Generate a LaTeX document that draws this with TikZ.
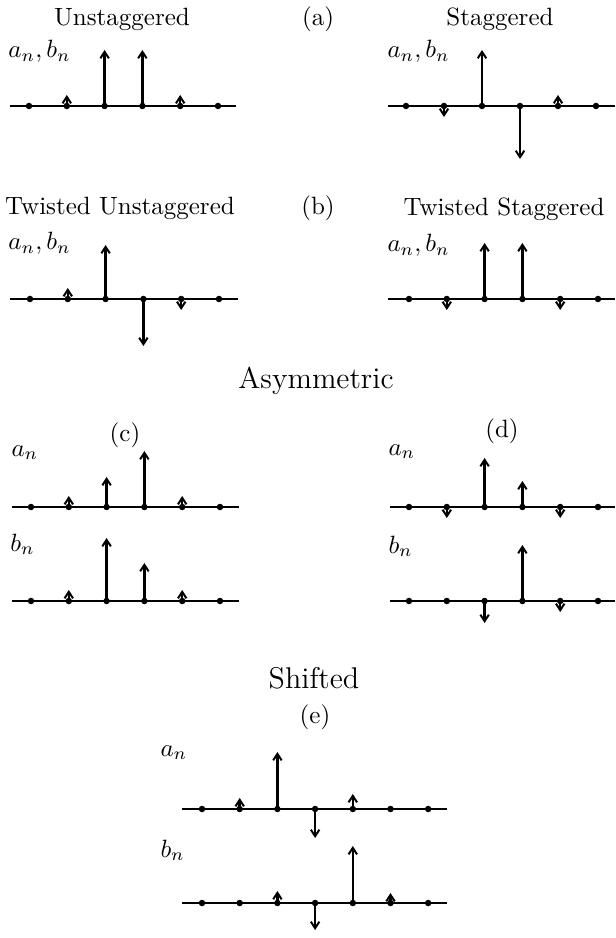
\documentclass[tikz,border=0pt]{standalone}
\usetikzlibrary{arrows.meta}
\begin{document}
\begin{tikzpicture}[x=0.4pt,y=-0.4pt,
  dot/.style={circle,fill=black,inner sep=0pt,minimum size=2.6pt},
  axisline/.style={line width=0.5pt},
  stem/.style={line width=1pt,-{Straight Barb[length=2.6pt,width=3.4pt,line width=0.8pt]}},
  lbl/.style={inner sep=0pt,anchor=base},
  lblw/.style={inner sep=0pt,anchor=base west},
  big/.style={inner sep=0pt,anchor=base,font=\fontsize{12}{14}\selectfont}]
\useasboundingbox (0,0) rectangle (615,938);

% ---------- (a) Unstaggered ----------
\node[lbl] (tUA) at (122,26) {Unstaggered};
\node[lbl] (tA) at (318,26) {(a)};
\node[lbl] (tSA) at (500,26) {Staggered};
\node[lblw] (lUA) at (8,58) {$a_n, b_n$};
\node[lblw] (lSA) at (387,58) {$a_n, b_n$};
\coordinate (uaL) at (10,106); \coordinate (uaR) at (236,106);
\draw[axisline] (uaL) -- (uaR);
\foreach \i in {0,...,5} \node[dot] (ua\i) at ({29+37.8*\i},106) {};
\draw[stem] (ua1.center) -- ++(0,-11);
\draw[stem] (ua2.center) -- ++(0,-56);
\draw[stem] (ua3.center) -- ++(0,-56);
\draw[stem] (ua4.center) -- ++(0,-11);

\coordinate (saL) at (388,106); \coordinate (saR) at (615,106);
\draw[axisline] (saL) -- (saR);
\foreach \i in {0,...,5} \node[dot] (sa\i) at ({406+38*\i},106) {};
\draw[stem] (sa1.center) -- ++(0,11);
\draw[stem] (sa2.center) -- ++(0,-56);
\draw[stem] (sa3.center) -- ++(0,53);
\draw[stem] (sa4.center) -- ++(0,-11);

% ---------- (b) Twisted ----------
\node[lbl] (tTU) at (120,215) {Twisted Unstaggered};
\node[lbl] (tB) at (318,215) {(b)};
\node[lbl] (tTS) at (504,216) {Twisted Staggered};
\node[lblw] (lTU) at (8,250) {$a_n, b_n$};
\node[lblw] (lTS) at (387,252) {$a_n, b_n$};
\coordinate (tuL) at (10,299); \coordinate (tuR) at (238,299);
\draw[axisline] (tuL) -- (tuR);
\foreach \i in {0,...,5} \node[dot] (tu\i) at ({30+37.8*\i},299) {};
\draw[stem] (tu1.center) -- ++(0,-11);
\draw[stem] (tu2.center) -- ++(0,-54);
\draw[stem] (tu3.center) -- ++(0,47);
\draw[stem] (tu4.center) -- ++(0,11);

\coordinate (tsL) at (388,299); \coordinate (tsR) at (615,299);
\draw[axisline] (tsL) -- (tsR);
\foreach \i in {0,...,5} \node[dot] (ts\i) at ({409+37.8*\i},299) {};
\draw[stem] (ts1.center) -- ++(0,11);
\draw[stem] (ts2.center) -- ++(0,-56);
\draw[stem] (ts3.center) -- ++(0,-56);
\draw[stem] (ts4.center) -- ++(0,11);

% ---------- Asymmetric (c), (d) ----------
\node[big] (tAs) at (316,389) {Asymmetric};
\node[lbl] (tC) at (125,441) {(c)};
\node[lbl] (tD) at (502,437) {(d)};
\node[lblw] (lCa) at (11,456) {$a_n$};
\node[lblw] (lCb) at (10,551) {$b_n$};
\node[lblw] (lDa) at (388,455) {$a_n$};
\node[lblw] (lDb) at (388,553) {$b_n$};

\coordinate (caL) at (12,507); \coordinate (caR) at (239,507);
\draw[axisline] (caL) -- (caR);
\foreach \i in {0,...,5} \node[dot] (ca\i) at ({31+37.8*\i},507) {};
\draw[stem] (ca1.center) -- ++(0,-11);
\draw[stem] (ca2.center) -- ++(0,-30);
\draw[stem] (ca3.center) -- ++(0,-56);
\draw[stem] (ca4.center) -- ++(0,-11);

\coordinate (cbL) at (12,601); \coordinate (cbR) at (239,601);
\draw[axisline] (cbL) -- (cbR);
\foreach \i in {0,...,5} \node[dot] (cb\i) at ({31+37.8*\i},601) {};
\draw[stem] (cb1.center) -- ++(0,-11);
\draw[stem] (cb2.center) -- ++(0,-63);
\draw[stem] (cb3.center) -- ++(0,-38);
\draw[stem] (cb4.center) -- ++(0,-11);

\coordinate (daL) at (390,507); \coordinate (daR) at (615,507);
\draw[axisline] (daL) -- (daR);
\foreach \i in {0,...,5} \node[dot] (da\i) at ({409+37.8*\i},507) {};
\draw[stem] (da1.center) -- ++(0,11);
\draw[stem] (da2.center) -- ++(0,-49);
\draw[stem] (da3.center) -- ++(0,-26);
\draw[stem] (da4.center) -- ++(0,11);

\coordinate (dbL) at (390,601); \coordinate (dbR) at (615,601);
\draw[axisline] (dbL) -- (dbR);
\foreach \i in {0,...,5} \node[dot] (db\i) at ({409+37.8*\i},601) {};
\draw[stem] (db2.center) -- ++(0,22);
\draw[stem] (db3.center) -- ++(0,-56);
\draw[stem] (db4.center) -- ++(0,11);

% ---------- Shifted (e) ----------
\node[big] (tSh) at (314,688) {Shifted};
\node[lbl] (tE) at (315,723) {(e)};
\node[lblw] (lEa) at (160,756) {$a_n$};
\node[lblw] (lEb) at (160,857) {$b_n$};

\coordinate (eaL) at (182,809); \coordinate (eaR) at (447,809);
\draw[axisline] (eaL) -- (eaR);
\foreach \i in {0,...,6} \node[dot] (ea\i) at ({202+37.7*\i},809) {};
\draw[stem] (ea1.center) -- ++(0,-11);
\draw[stem] (ea2.center) -- ++(0,-57);
\draw[stem] (ea3.center) -- ++(0,29);
\draw[stem] (ea4.center) -- ++(0,-15);

\coordinate (ebL) at (182,903); \coordinate (ebR) at (447,903);
\draw[axisline] (ebL) -- (ebR);
\foreach \i in {0,...,6} \node[dot] (eb\i) at ({202+37.7*\i},903) {};
\draw[stem] (eb2.center) -- ++(0,-12);
\draw[stem] (eb3.center) -- ++(0,27);
\draw[stem] (eb4.center) -- ++(0,-57);
\draw[stem] (eb5.center) -- ++(0,-10);
\end{tikzpicture}
\end{document}
